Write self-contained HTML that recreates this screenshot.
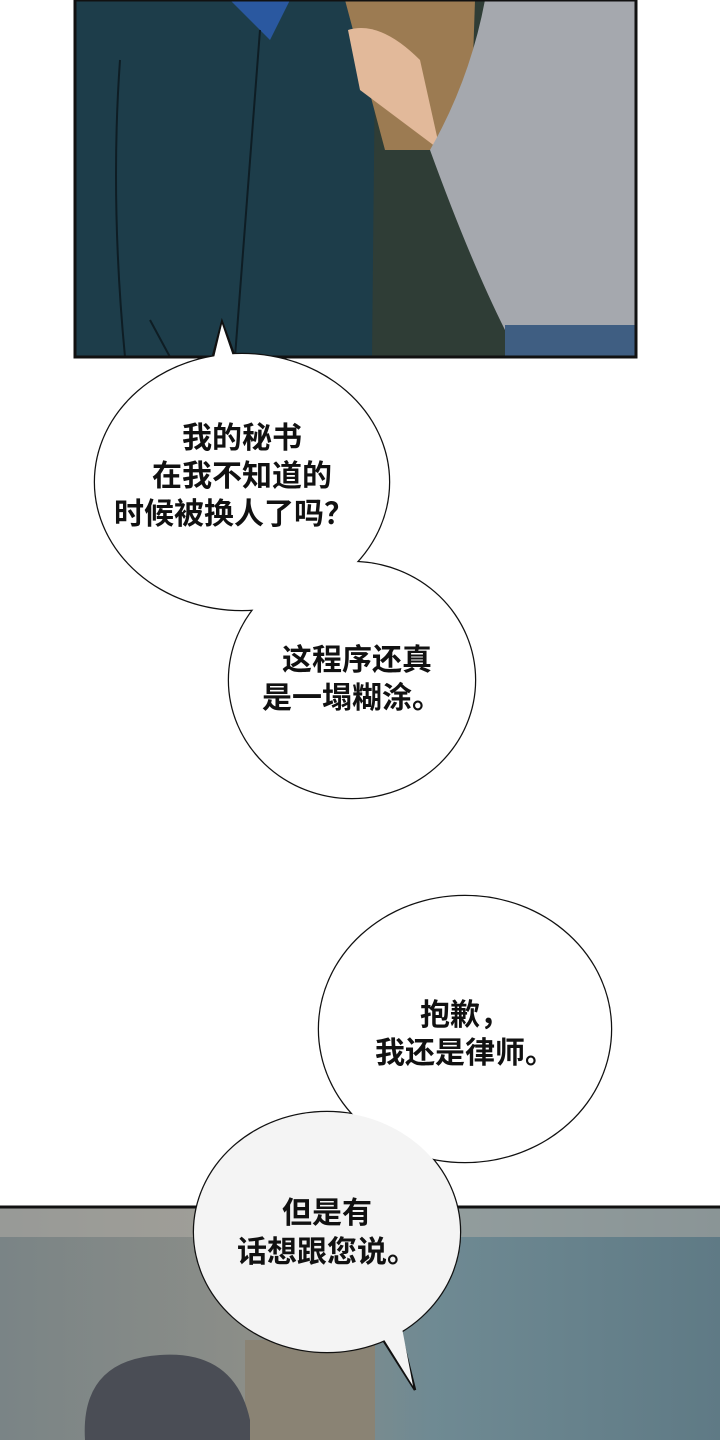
<!DOCTYPE html>
<html><head><meta charset="utf-8"><style>
html,body{margin:0;padding:0;background:#fff;}
body{width:720px;height:1440px;overflow:hidden;}
text{font-family:"Liberation Sans","Noto Sans CJK SC",sans-serif;font-weight:bold;font-size:30px;fill:#111;text-anchor:middle;}
</style></head><body>
<svg width="720" height="1440" viewBox="0 0 720 1440" xmlns="http://www.w3.org/2000/svg">
<defs>
<linearGradient id="bg2" x1="0" y1="0" x2="1" y2="0">
<stop offset="0" stop-color="#7a8486"/><stop offset="0.35" stop-color="#8c8e88"/><stop offset="0.6" stop-color="#6f8a93"/><stop offset="1" stop-color="#5f7a85"/>
</linearGradient>
</defs>
<rect x="75" y="0" width="561" height="357" fill="#2f3d36"/>
<path d="M75 0 H345 L375 60 L372 357 H75 Z" fill="#1d3d4a"/>
<path d="M230 0 H290 L270 40 Z" fill="#2a58a0"/>
<path d="M345 0 H475 L470 150 H385 Z" fill="#9c7b52"/>
<path d="M348 30 Q380 20 420 60 L440 150 Q400 120 360 90 Z" fill="#e2b99a"/>
<path d="M485 0 H636 V330 H505 Q470 260 430 150 Q470 80 485 0 Z" fill="#a5a8ae"/>
<rect x="505" y="325" width="131" height="32" fill="#3f5e82"/>
<path d="M150 320 L170 357 M260 30 L235 357 M120 60 Q110 200 125 357" stroke="#0e1d24" stroke-width="2" fill="none"/>
<rect x="75" y="0" width="561" height="357" fill="none" stroke="#111" stroke-width="3"/>
<rect x="0" y="1207" width="720" height="233" fill="url(#bg2)"/>
<rect x="0" y="1207" width="720" height="30" fill="#b6b0a8" opacity="0.5"/>
<rect x="245" y="1340" width="130" height="100" fill="#8a8374"/>
<path d="M85 1440 Q80 1360 160 1355 Q235 1350 250 1420 L250 1440 Z" fill="#4a4d55"/>
<line x1="0" y1="1207" x2="720" y2="1207" stroke="#111" stroke-width="3"/>
<g stroke="#111" stroke-width="2.5" fill="none">
<ellipse cx="242" cy="482" rx="147" ry="128"/>
<ellipse cx="352" cy="680" rx="123" ry="118"/>
<ellipse cx="465" cy="1029" rx="146" ry="133"/>
<ellipse cx="327" cy="1232" rx="133" ry="120"/>
<path d="M212 360 L222 322 L236 360"/>
<path d="M380 1335 L415 1390 L400 1330"/>
</g>
<g fill="#fff">
<ellipse cx="242" cy="482" rx="147" ry="128"/>
<ellipse cx="352" cy="680" rx="123" ry="118"/>
<ellipse cx="465" cy="1029" rx="146" ry="133"/>
<ellipse cx="327" cy="1232" rx="133" ry="120" fill="#f4f4f4"/>
<path d="M213 362 L222 324 L235 362 Z"/>
<path d="M378 1330 L413 1386 L402 1328 Z" fill="#f4f4f4"/>
</g>
<text x="242" y="448">我的秘书</text>
<text x="242" y="486">在我不知道的</text>
<text x="234" y="524">时候被换人了吗？</text>
<text x="357" y="670">这程序还真</text>
<text x="352" y="708">是一塌糊涂。</text>
<text x="465" y="1025">抱歉，</text>
<text x="465" y="1063">我还是律师。</text>
<text x="327" y="1223">但是有</text>
<text x="327" y="1262">话想跟您说。</text>
</svg>
</body></html>
